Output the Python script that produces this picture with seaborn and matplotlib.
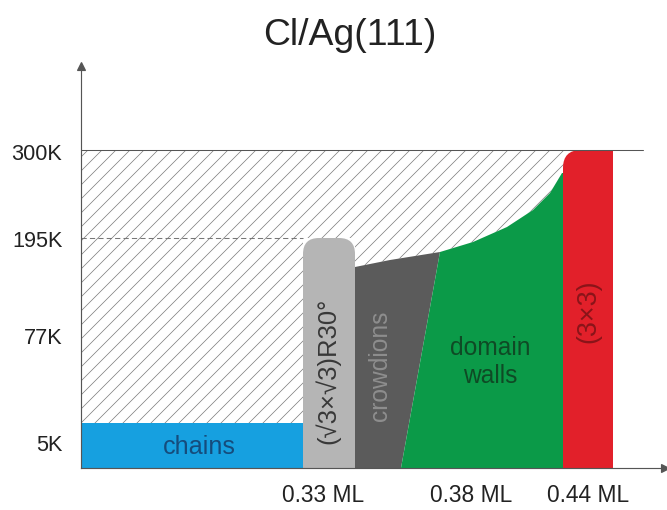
import matplotlib
matplotlib.use('Agg')
from matplotlib import pyplot as plt
from matplotlib.path import Path
from matplotlib.patches import PathPatch
import pandas as pd
import seaborn as sns

# schematic phase diagram, 1 data unit = 1 px of the drawing
coverage_ticks = [242, 390, 507]
coverage_labels = ['0.33 ML', '0.38 ML', '0.44 ML']
temp_ticks = [25, 132, 229, 316]
temp_labels = ['5K', '77K', '195K', '300K']

top_temp = 318      # 300K line
sqrt3_temp = 230    # 195K
chains_temp = 45

chains_x = [0, 222]
sqrt3_x = [222, 274]
crowd_bottom_x = [274, 320]
walls_x = [320, 482]
red_x = [482, 532]

# upper edge of crowdions / domain walls
edge_x = [274, 309, 359, 392, 426, 452, 469, 481, 489, 496]
edge_y = [201, 208, 216, 226, 241, 258, 275, 295, 308, 318]

DPI = 84
sns.set_style('white')
plt.rcParams['font.family'] = ['Liberation Sans', 'DejaVu Sans']
plt.rcParams['hatch.linewidth'] = 0.6
plt.rcParams['hatch.color'] = '#7a7a7a'

fig = plt.figure(figsize=(667 / DPI, 510 / DPI), dpi=DPI)
ax = fig.add_axes([81 / 667, 42 / 510, 584 / 667, 402 / 510])
ax.set_xlim(0, 584)
ax.set_ylim(0, 402)


def rounded_top(x0, x1, top, r, left=True, right=True):
    verts = [(x0, 0)]
    codes = [Path.MOVETO]
    if left:
        verts += [(x0, top - r), (x0, top), (x0 + r, top)]
        codes += [Path.LINETO, Path.CURVE3, Path.CURVE3]
    else:
        verts += [(x0, top)]
        codes += [Path.LINETO]
    if right:
        verts += [(x1 - r, top), (x1, top), (x1, top - r)]
        codes += [Path.LINETO, Path.CURVE3, Path.CURVE3]
    else:
        verts += [(x1, top)]
        codes += [Path.LINETO]
    verts += [(x1, 0), (x0, 0)]
    codes += [Path.LINETO, Path.CLOSEPOLY]
    return Path(verts, codes)


# hatched (disordered / gas) region
i_c = edge_x.index(359)
i_r = edge_x.index(481)
hx = [chains_x[0], chains_x[1], sqrt3_x[0], sqrt3_x[1], sqrt3_x[1]] + edge_x + [0]
hy = [chains_temp, chains_temp, sqrt3_temp, sqrt3_temp, edge_y[0]] + edge_y + [top_temp]
ax.fill(hx, hy, facecolor='white', edgecolor='#7a7a7a', hatch='//', linewidth=0)

# chains
ax.fill([chains_x[0], chains_x[1], chains_x[1], chains_x[0]],
        [0, 0, chains_temp, chains_temp], color='#16a0e0', linewidth=0)

# crowdions
cx = [crowd_bottom_x[0], crowd_bottom_x[1], edge_x[i_c]] + edge_x[:i_c][::-1]
cy = [0, 0, edge_y[i_c]] + edge_y[:i_c][::-1]
ax.fill(cx, cy, color='#5b5b5b', linewidth=0)

# domain walls
gx = [walls_x[0], walls_x[1], walls_x[1]] + edge_x[i_c:i_r + 1][::-1]
gy = [0, 0, edge_y[i_r]] + edge_y[i_c:i_r + 1][::-1]
ax.fill(gx, gy, color='#0b9a48', linewidth=0)

# (√3×√3)R30° and (3×3)
ax.add_patch(PathPatch(rounded_top(sqrt3_x[0], sqrt3_x[1], sqrt3_temp, 16),
                       facecolor='#b5b5b5', edgecolor='none'))
ax.add_patch(PathPatch(rounded_top(red_x[0], red_x[1], top_temp, 18, right=False),
                       facecolor='#e2202a', edgecolor='none'))

# 300K line and dashed 195K line
lines = pd.DataFrame({'x': [0, 562], 'y': [top_temp, top_temp]})
sns.lineplot(data=lines, x='x', y='y', color='#555555', linewidth=0.9, ax=ax)
dash = pd.DataFrame({'x': [0, sqrt3_x[0]], 'y': [sqrt3_temp, sqrt3_temp]})
sns.lineplot(data=dash, x='x', y='y', color='#777777', linewidth=0.9,
             linestyle=(0, (5, 3)), ax=ax)

# phase labels
ax.text(118, 21, 'chains', ha='center', va='center', fontsize=21.5, color='#154c7c')
ax.text(247, 97, '(√3×√3)R30°', ha='center', va='center', rotation=90,
        fontsize=22, color='#383838')
ax.text(299, 102, 'crowdions', ha='center', va='center', rotation=90,
        fontsize=21, color='#8e8e8e')
ax.text(409, 106, 'domain\nwalls', ha='center', va='center', fontsize=21,
        color='#0f4a25', linespacing=1.2)
ax.text(507, 157, '(3×3)', ha='center', va='center', rotation=90,
        fontsize=23, color='#8a1419')

# axes
sns.despine(ax=ax)
for s in ['left', 'bottom']:
    ax.spines[s].set_color('#555555')
    ax.spines[s].set_linewidth(1.0)
ax.plot(0, 1, '^', color='#555555', ms=7, transform=ax.transAxes, clip_on=False)
ax.plot(1, 0, '>', color='#555555', ms=7, transform=ax.transAxes, clip_on=False)

ax.set_xticks(coverage_ticks)
ax.set_xticklabels(coverage_labels, fontsize=19.5, color='#222222')
ax.set_yticks(temp_ticks)
ax.set_yticklabels(temp_labels, fontsize=18.5, color='#222222')
ax.tick_params(axis='x', direction='out', length=5, width=1, color='#555555', pad=9)
ax.tick_params(axis='y', length=0, pad=16)
ax.set_xlabel('')
ax.set_ylabel('')

fig.text(350 / 667, 1 - 45 / 510, 'Cl/Ag(111)', ha='center', va='baseline',
         fontsize=32, color='#222222')

fig.savefig('out.png', dpi=DPI)
